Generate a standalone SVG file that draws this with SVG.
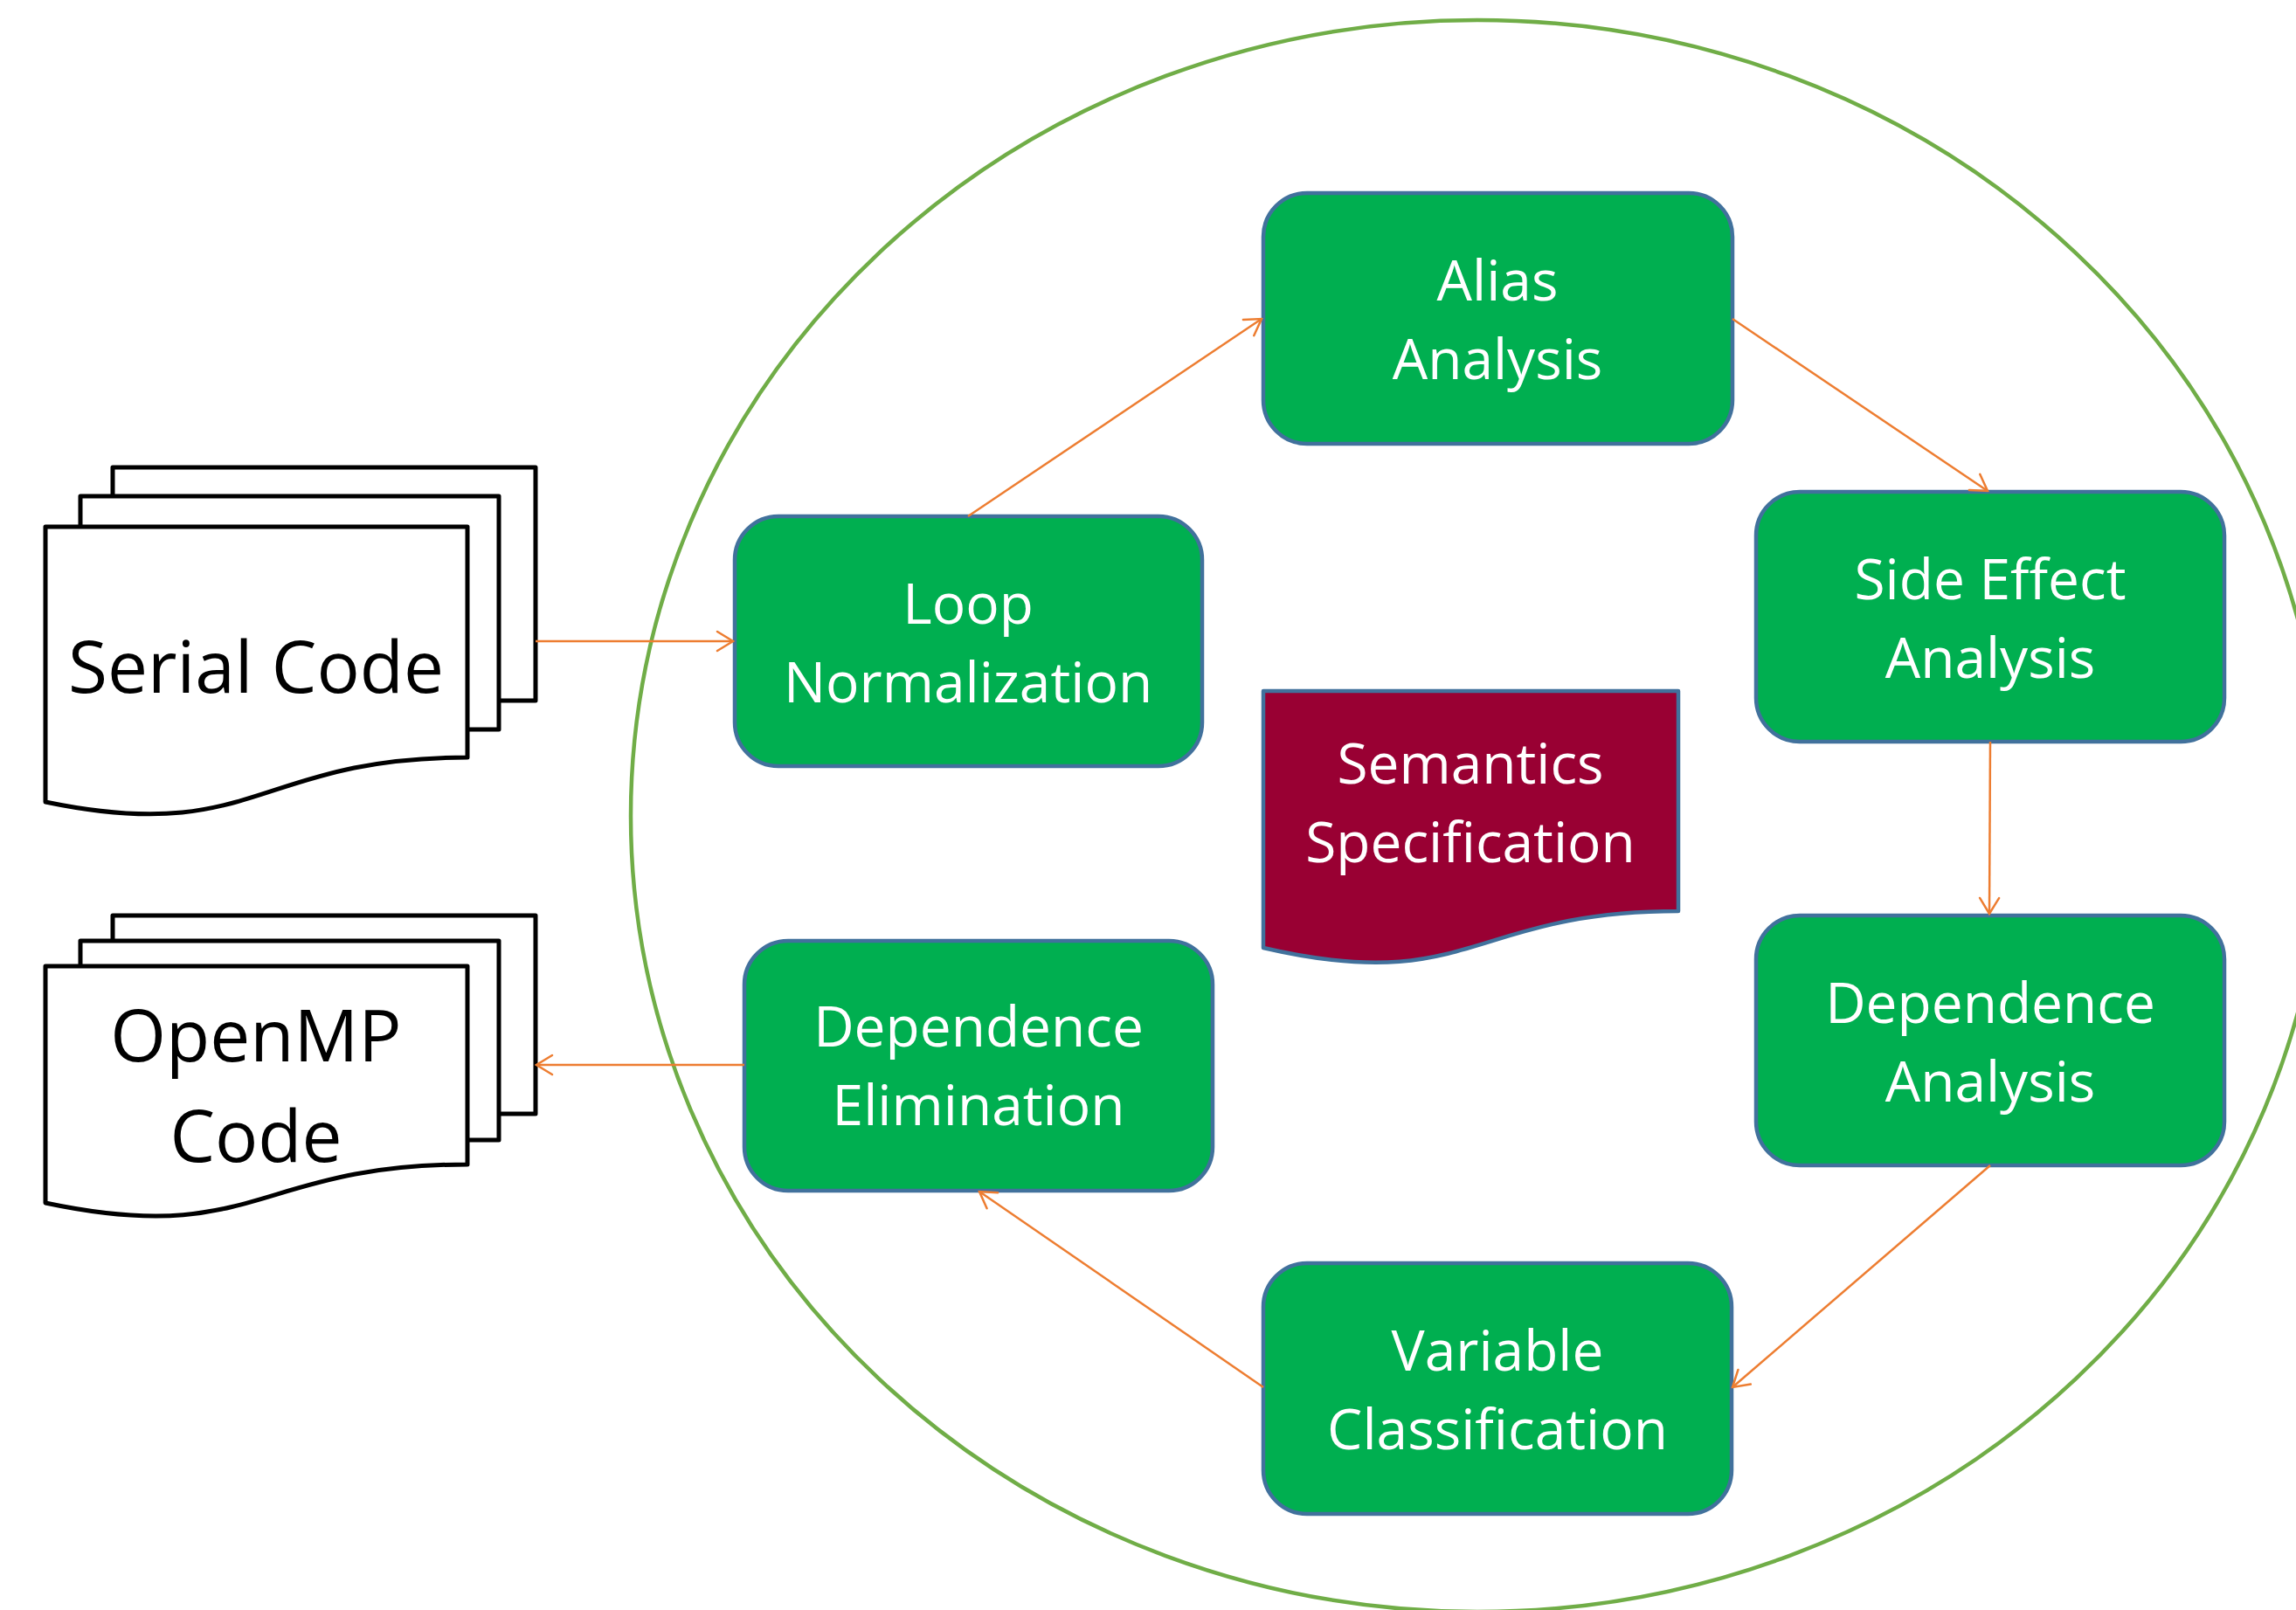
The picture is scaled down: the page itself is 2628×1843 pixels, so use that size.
<svg xmlns="http://www.w3.org/2000/svg" width="2628" height="1843" viewBox="0 0 2628 1843">
<style>
.box{fill:#00AF50;stroke:#41719C;stroke-width:4.5}
.lbl{font-family:"Open Sans","Noto Sans",sans-serif;font-size:64px;fill:#FFFFFF;text-anchor:middle}
.doc{fill:#FFFFFF;stroke:#000000;stroke-width:5;stroke-linejoin:round}
.dlbl{font-family:"Open Sans","Noto Sans",sans-serif;font-size:82px;fill:#000000;text-anchor:middle}
.conn{fill:none;stroke:#ED7D31;stroke-width:2.5;marker-end:url(#arr)}
</style>
<defs>
<marker id="arr" markerUnits="userSpaceOnUse" viewBox="0 0 22 26" refX="20" refY="13" markerWidth="22" markerHeight="26" orient="auto">
<path d="M2,2 L20,13 L2,24" fill="none" stroke="#ED7D31" stroke-width="2.5" stroke-linecap="round"/>
</marker>
</defs>
<rect width="2628" height="1843" fill="#FFFFFF"/>
<g id="boundary">
<ellipse cx="1691" cy="934" rx="969" ry="911" fill="none" stroke="#70AD47" stroke-width="4.5"/>
</g>
<g id="serial-code">
<rect class="doc" x="129" y="535" width="484" height="267"/>
<rect class="doc" x="92" y="568" width="479" height="267"/>
<path class="doc" d="M52,603 L535,603 L535,867 C293,867 293,968 52,918 Z"/>
<text class="dlbl" x="293" y="793">Serial Code</text>
</g>
<g id="openmp-code">
<rect class="doc" x="129" y="1048" width="484" height="227"/>
<rect class="doc" x="92" y="1077" width="479" height="228"/>
<path class="doc" d="M52,1106 L535,1106 L535,1333 C293,1333 293,1428 52,1377 Z"/>
<text class="dlbl" x="293" y="1215">OpenMP</text>
<text class="dlbl" x="293" y="1330">Code</text>
</g>
<g id="loop-normalization">
<rect class="box" x="841" y="591" width="535" height="286" rx="50" ry="50"/>
<text class="lbl" x="1108" y="714">Loop</text>
<text class="lbl" x="1108" y="804">Normalization</text>
</g>
<g id="alias-analysis">
<rect class="box" x="1446" y="221" width="537" height="287" rx="50" ry="50"/>
<text class="lbl" x="1714" y="344">Alias</text>
<text class="lbl" x="1714" y="434">Analysis</text>
</g>
<g id="side-effect-analysis">
<rect class="box" x="2010" y="563" width="536" height="286" rx="50" ry="50"/>
<text class="lbl" x="2278" y="686">Side Effect</text>
<text class="lbl" x="2278" y="776">Analysis</text>
</g>
<g id="dependence-analysis">
<rect class="box" x="2010" y="1048" width="536" height="286" rx="50" ry="50"/>
<text class="lbl" x="2278" y="1171">Dependence</text>
<text class="lbl" x="2278" y="1261">Analysis</text>
</g>
<g id="variable-classification">
<rect class="box" x="1446" y="1446" width="536" height="287" rx="50" ry="50"/>
<text class="lbl" x="1714" y="1569">Variable</text>
<text class="lbl" x="1714" y="1659">Classification</text>
</g>
<g id="dependence-elimination">
<rect class="box" x="852" y="1077" width="536" height="286" rx="50" ry="50"/>
<text class="lbl" x="1120" y="1198">Dependence</text>
<text class="lbl" x="1120" y="1288">Elimination</text>
</g>
<g id="semantics-specification">
<path d="M1446,791 L1921,791 L1921,1043 C1683,1043 1683,1140 1446,1085 Z" fill="#990033" stroke="#41719C" stroke-width="4.5" stroke-linejoin="round"/>
<text class="lbl" x="1683" y="897">Semantics</text>
<text class="lbl" x="1683" y="987">Specification</text>
</g>
<g id="connectors">
<line class="conn" x1="613" y1="734" x2="839" y2="734"/>
<line class="conn" x1="1108" y1="591" x2="1444" y2="365"/>
<line class="conn" x1="1983" y1="365" x2="2275" y2="562"/>
<line class="conn" x1="2278" y1="849" x2="2277" y2="1046"/>
<line class="conn" x1="2278" y1="1334" x2="1983" y2="1588"/>
<line class="conn" x1="1446" y1="1588" x2="1121" y2="1364"/>
<line class="conn" x1="852" y1="1219" x2="614" y2="1219"/>
</g>
</svg>
